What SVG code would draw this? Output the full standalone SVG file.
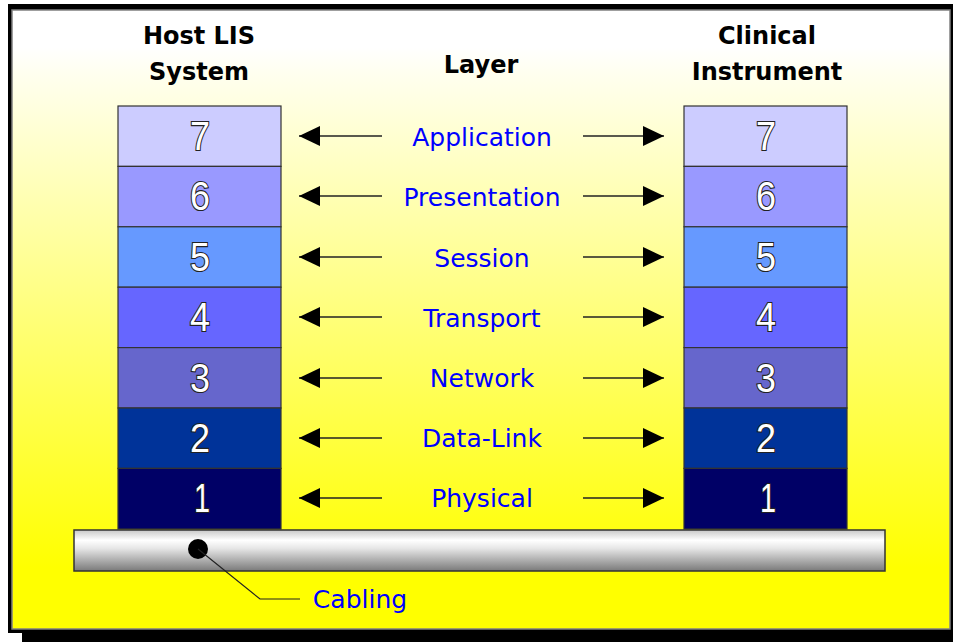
<svg xmlns="http://www.w3.org/2000/svg" width="953" height="642" viewBox="0 0 953 642">
  <defs>
    <linearGradient id="panelFill" x1="0" y1="0" x2="0" y2="1">
      <stop offset="0" stop-color="#ffffff"/>
      <stop offset="0.06" stop-color="#ffffff"/>
      <stop offset="0.1" stop-color="#fffff0"/>
      <stop offset="0.9" stop-color="#ffff00"/>
      <stop offset="1" stop-color="#ffff00"/>
    </linearGradient>
    <linearGradient id="cableFill" x1="0" y1="0" x2="0" y2="1">
      <stop offset="0" stop-color="#c8c8c8"/>
      <stop offset="0.25" stop-color="#ffffff"/>
      <stop offset="0.45" stop-color="#e6e6e6"/>
      <stop offset="1" stop-color="#7a7a7a"/>
    </linearGradient>
    <marker id="head" markerUnits="userSpaceOnUse" markerWidth="22" markerHeight="22" viewBox="0 0 22 22" refX="21" refY="11" orient="auto">
      <polygon points="0,1 21,11 0,21" fill="#000"/>
    </marker>
    <style>
      .layer { stroke: #333; stroke-width: 1.2; }
      .num { font-family: "Liberation Sans", Arial, sans-serif; font-size: 40px; fill: #fff; stroke: #222; stroke-width: 2.2; paint-order: stroke; text-anchor: middle; }
      .head { font-family: "DejaVu Sans", sans-serif; font-weight: bold; font-size: 24px; fill: #000; text-anchor: middle; }
      .lbl { font-family: "DejaVu Sans", sans-serif; font-size: 25px; fill: #0000ff; text-anchor: middle; }
      .arr { stroke: #222; stroke-width: 1.5; fill: none; marker-end: url(#head); }
    </style>
  </defs>

  <!-- frame with shadow -->
  <rect x="22" y="14" width="940" height="640" fill="#000"/>
  <rect x="8" y="4" width="945" height="629" fill="#000"/>
  <rect x="12" y="10" width="938" height="619" fill="url(#panelFill)" stroke="#808080" stroke-width="1.5"/>

  <!-- headings -->
  <g id="heading-host">
    <text class="head" x="199" y="44">Host LIS</text>
    <text class="head" x="199" y="80">System</text>
  </g>
  <g id="heading-layer">
    <text class="head" x="481" y="73" font-size="21">Layer</text>
  </g>
  <g id="heading-instrument">
    <text class="head" x="767" y="44">Clinical</text>
    <text class="head" x="767" y="80">Instrument</text>
  </g>

  <!-- host stack -->
  <g id="host-stack">
    <rect class="layer" x="118" y="106" width="163" height="60.4" fill="#ccccff"/>
    <rect class="layer" x="118" y="166.4" width="163" height="60.4" fill="#9999ff"/>
    <rect class="layer" x="118" y="226.8" width="163" height="60.4" fill="#6699ff"/>
    <rect class="layer" x="118" y="287.2" width="163" height="60.4" fill="#6666ff"/>
    <rect class="layer" x="118" y="347.6" width="163" height="60.4" fill="#6666cc"/>
    <rect class="layer" x="118" y="408" width="163" height="60.4" fill="#003399"/>
    <rect class="layer" x="118" y="468.4" width="163" height="60.6" fill="#000066"/>
    <text class="num" x="200" y="150" textLength="20" lengthAdjust="spacingAndGlyphs">7</text>
    <text class="num" x="200" y="210" textLength="20" lengthAdjust="spacingAndGlyphs">6</text>
    <text class="num" x="200" y="271" textLength="20" lengthAdjust="spacingAndGlyphs">5</text>
    <text class="num" x="200" y="331" textLength="20" lengthAdjust="spacingAndGlyphs">4</text>
    <text class="num" x="200" y="392" textLength="20" lengthAdjust="spacingAndGlyphs">3</text>
    <text class="num" x="200" y="452" textLength="20" lengthAdjust="spacingAndGlyphs">2</text>
    <text class="num" x="202" y="512" textLength="16" lengthAdjust="spacingAndGlyphs">1</text>
  </g>

  <!-- instrument stack -->
  <g id="instrument-stack">
    <rect class="layer" x="684" y="106" width="163" height="60.4" fill="#ccccff"/>
    <rect class="layer" x="684" y="166.4" width="163" height="60.4" fill="#9999ff"/>
    <rect class="layer" x="684" y="226.8" width="163" height="60.4" fill="#6699ff"/>
    <rect class="layer" x="684" y="287.2" width="163" height="60.4" fill="#6666ff"/>
    <rect class="layer" x="684" y="347.6" width="163" height="60.4" fill="#6666cc"/>
    <rect class="layer" x="684" y="408" width="163" height="60.4" fill="#003399"/>
    <rect class="layer" x="684" y="468.4" width="163" height="60.6" fill="#000066"/>
    <text class="num" x="766" y="150" textLength="20" lengthAdjust="spacingAndGlyphs">7</text>
    <text class="num" x="766" y="210" textLength="20" lengthAdjust="spacingAndGlyphs">6</text>
    <text class="num" x="766" y="271" textLength="20" lengthAdjust="spacingAndGlyphs">5</text>
    <text class="num" x="766" y="331" textLength="20" lengthAdjust="spacingAndGlyphs">4</text>
    <text class="num" x="766" y="392" textLength="20" lengthAdjust="spacingAndGlyphs">3</text>
    <text class="num" x="766" y="452" textLength="20" lengthAdjust="spacingAndGlyphs">2</text>
    <text class="num" x="768" y="512" textLength="16" lengthAdjust="spacingAndGlyphs">1</text>
  </g>

  <!-- layer names -->
  <g id="layer-names">
    <text class="lbl" x="482" y="146">Application</text>
    <text class="lbl" x="482" y="206">Presentation</text>
    <text class="lbl" x="482" y="267">Session</text>
    <text class="lbl" x="482" y="327">Transport</text>
    <text class="lbl" x="482" y="387">Network</text>
    <text class="lbl" x="482" y="447">Data-Link</text>
    <text class="lbl" x="482" y="507">Physical</text>
  </g>

  <!-- cable bar -->
  <g id="cabling">
    <rect x="74" y="530" width="811" height="41" fill="url(#cableFill)" stroke="#333" stroke-width="1.5"/>
    <circle cx="198" cy="549" r="10" fill="#000"/>
    <text class="lbl" x="360" y="608">Cabling</text>
  </g>

  <!-- peer arrows and cable callout -->
  <g id="connectors">
    <path class="arr" d="M382 136H299"/><path class="arr" d="M583 136H664"/>
    <path class="arr" d="M382 196H299"/><path class="arr" d="M583 196H664"/>
    <path class="arr" d="M382 257H299"/><path class="arr" d="M583 257H664"/>
    <path class="arr" d="M382 317H299"/><path class="arr" d="M583 317H664"/>
    <path class="arr" d="M382 378H299"/><path class="arr" d="M583 378H664"/>
    <path class="arr" d="M382 438H299"/><path class="arr" d="M583 438H664"/>
    <path class="arr" d="M382 498H299"/><path class="arr" d="M583 498H664"/>
    <path d="M198 549L260 599H300" fill="none" stroke="#222" stroke-width="1.2"/>
  </g>
</svg>
